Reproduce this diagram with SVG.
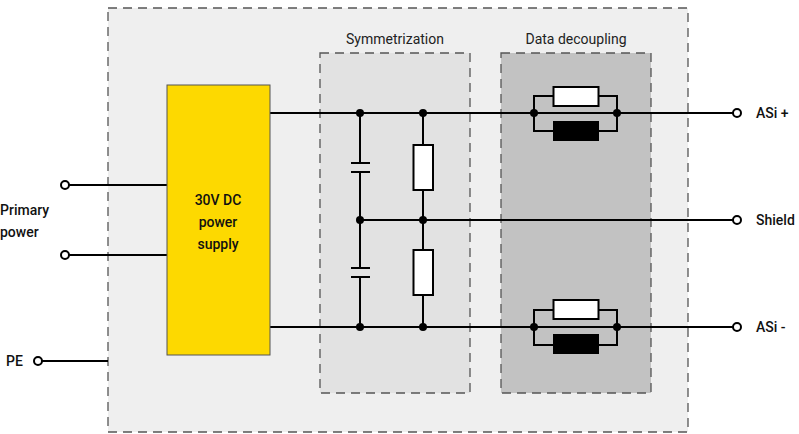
<svg xmlns="http://www.w3.org/2000/svg" width="799" height="434" viewBox="0 0 799 434">
<style>
.w{stroke:#000;stroke-width:2;fill:none}
.d{fill:#000}
.t{fill:#fff;stroke:#000;stroke-width:2}
.txt{font-family:Roboto,"Liberation Sans",sans-serif;font-size:14px;font-weight:500;fill:#111}
.hd{font-family:Roboto,"Liberation Sans",sans-serif;font-size:14px;fill:#222}
.box{stroke:#555;stroke-width:1.3;stroke-dasharray:9,6}
</style>
<g id="housing"><rect x="108" y="8" width="580" height="424" fill="#efefef" class="box"/></g>
<g id="symmetrization"><rect x="320" y="53" width="150" height="340" fill="#e2e2e2" class="box"/><text class="hd" x="395" y="44" text-anchor="middle">Symmetrization</text></g>
<g id="decoupling"><rect x="501" y="53" width="150" height="340" fill="#c2c2c2" class="box"/><text class="hd" x="576" y="44" text-anchor="middle">Data decoupling</text></g>
<g id="connectors">
<path class="w" d="M69 185H167M69 255H167M42 361H108M270 113H733M270 327H733M360 220H733M360 113V163M360 172V268M360 277V327M423 113V145M423 190V250M423 295V327"/>
<path class="w" d="M351 163H370M351 172H370M351 268H370M351 277H370"/>
<path class="w" d="M534 113V96H617V113M534 113V131H617V113M534 327V310H617V327M534 327V345H617V327"/>
<rect class="t" x="413.5" y="145" width="19.5" height="45"/>
<rect class="t" x="413.5" y="250" width="19.5" height="45"/>
<rect class="t" x="553.5" y="87" width="45" height="19"/>
<rect class="d" x="553" y="121" width="46" height="20"/>
<rect class="t" x="553.5" y="300" width="45" height="19"/>
<rect class="d" x="553" y="334" width="46" height="20"/>
<g class="d"><circle cx="360" cy="113" r="4"/><circle cx="423" cy="113" r="4"/><circle cx="360" cy="220" r="4"/><circle cx="423" cy="220" r="4"/><circle cx="360" cy="327" r="4"/><circle cx="423" cy="327" r="4"/><circle cx="534" cy="113" r="4"/><circle cx="617" cy="113" r="4"/><circle cx="534" cy="327" r="4"/><circle cx="617" cy="327" r="4"/></g>
<g class="t"><circle cx="65" cy="185" r="4"/><circle cx="65" cy="255" r="4"/><circle cx="38" cy="361" r="4"/><circle cx="737" cy="113" r="4"/><circle cx="737" cy="220" r="4"/><circle cx="737" cy="327" r="4"/></g>
</g>
<g id="psu"><rect x="167" y="85" width="103" height="270" fill="#fdd900" stroke="#555" stroke-width="1"/>
<text class="txt" text-anchor="middle" x="218"><tspan x="218" y="205">30V DC</tspan><tspan x="218" y="227">power</tspan><tspan x="218" y="249">supply</tspan></text></g>
<g id="labels">
<text class="txt" x="0" y="215">Primary</text><text class="txt" x="0" y="237">power</text>
<text class="txt" x="6" y="366">PE</text>
<text class="txt" x="756" y="118">ASi +</text>
<text class="txt" x="756" y="225">Shield</text>
<text class="txt" x="756" y="332">ASi -</text>
</g>
</svg>
